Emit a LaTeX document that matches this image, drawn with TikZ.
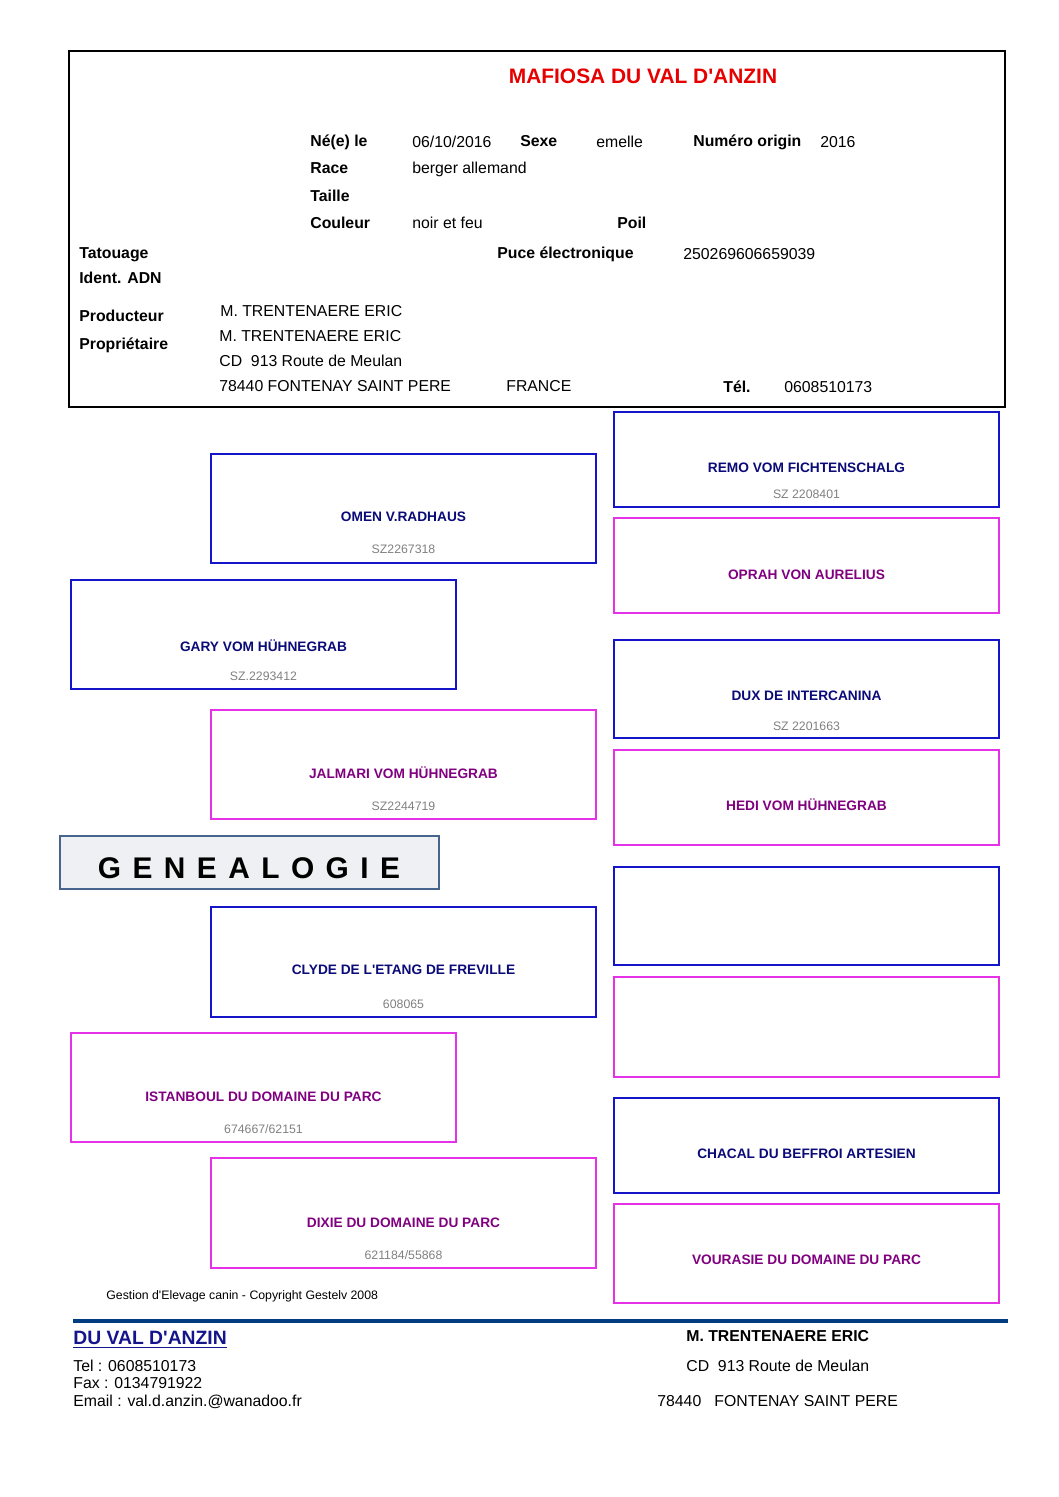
\documentclass[tikz,border=0pt]{standalone}
\usepackage{fontspec}
\setmainfont{Liberation Sans}[Ligatures=TeXOff]
\usepackage{tikz}
\usetikzlibrary{positioning}

\definecolor{boxblue}{RGB}{20,20,200}
\definecolor{boxpink}{RGB}{230,50,230}
\definecolor{nameblue}{RGB}{10,10,120}
\definecolor{namepurple}{RGB}{128,0,128}
\definecolor{numgrey}{RGB}{128,128,128}
\definecolor{titlered}{RGB}{230,0,0}
\definecolor{footblue}{RGB}{0,60,130}
\definecolor{kennelblue}{RGB}{20,20,140}
\definecolor{genfill}{RGB}{238,240,243}
\definecolor{genline}{RGB}{70,100,140}

\begin{document}
\begin{tikzpicture}[x=0.02cm, y=-0.02cm,
    lbl/.style={anchor=west, inner sep=0pt, text height=6.5pt, text depth=0pt,
      font=\fontsize{9}{11}\selectfont\bfseries},
    val/.style={anchor=west, inner sep=0pt, text height=6.5pt, text depth=0pt,
      font=\fontsize{9}{11}\selectfont},
    malebox/.style={draw=boxblue, line width=0.7pt},
    femalebox/.style={draw=boxpink, line width=0.7pt},
    malename/.style={inner sep=0pt, text height=5.6pt, text depth=0pt, text=nameblue,
      font=\fontsize{7.8}{9}\selectfont\bfseries},
    femalename/.style={malename, text=namepurple},
    regnum/.style={inner sep=0pt, text height=5pt, text depth=0pt, text=numgrey,
      font=\fontsize{7}{8}\selectfont}]
  \useasboundingbox (0,0) rectangle (1058,1497);

  % Header frame
  \draw[line width=1.6pt] (69,51) rectangle (1005,407);
  \node[inner sep=0pt, text height=8.5pt, text depth=0pt, text=titlered,
    font=\fontsize{11.9}{13}\selectfont\bfseries] (dog) at (643,76) {MAFIOSA DU VAL D'ANZIN};

  % Identity
  \node[lbl] (bornLbl) at (310,141) {Né(e) le};
  \node[val] (born) at (412,142) {06/10/2016};
  \node[lbl] (sexLbl) at (520,141) {Sexe};
  \node[val] (sex) at (596,142) {emelle};
  \node[lbl] (origLbl) at (693,141) {Numéro origin};
  \node[val] (orig) at (820,142) {2016};
  \node[lbl] (raceLbl) at (310,168) {Race};
  \node[val] (race) at (412,168) {berger allemand};
  \node[lbl] (sizeLbl) at (310,196) {Taille};
  \node[lbl] (colourLbl) at (310,223) {Couleur};
  \node[val] (colour) at (412,223) {noir et feu};
  \node[lbl] (coatLbl) at (617,223) {Poil};
  \node[lbl] (tattooLbl) at (79,253) {Tatouage};
  \node[lbl] (chipLbl) at (497,253) {Puce électronique};
  \node[val] (chip) at (683,254) {250269606659039};
  \node[lbl] (dnaLbl) at (79,278) {Ident. ADN};

  % Breeder and owner
  \node[lbl] (breederLbl) at (79,316) {Producteur};
  \node[val] (breeder) at (220,311) {M. TRENTENAERE ERIC};
  \node[lbl] (ownerLbl) at (79,344) {Propriétaire};
  \node[val] (owner) at (219,336) {M. TRENTENAERE ERIC};
  \node[val] (street) at (219,361) {CD\ \ 913 Route de Meulan};
  \node[val] (town) at (219,386) {78440 FONTENAY SAINT PERE};
  \node[val] (country) at (506,386) {FRANCE};
  \node[lbl] (phoneLbl) at (723,387) {Tél.};
  \node[val] (phone) at (784,387) {0608510173};

  % Parents
  \draw[malebox] (211,454) rectangle (596,563);
  \node[malename] (omen) at (403.5,517) {OMEN V.RADHAUS};
  \node[regnum] (omenNum) at (403.5,549) {SZ2267318};
  \draw[femalebox] (211,1158) rectangle (596,1268);
  \node[femalename] (dixie) at (403.5,1223) {DIXIE DU DOMAINE DU PARC};
  \node[regnum] (dixieNum) at (403.5,1255) {621184/55868};

  % Grandparents
  \draw[malebox] (71,580) rectangle (456,689);
  \node[malename] (gary) at (263.5,647) {GARY VOM HÜHNEGRAB};
  \node[regnum] (garyNum) at (263.5,676) {SZ.2293412};
  \draw[femalebox] (211,710) rectangle (596,819);
  \node[femalename] (jalmari) at (403.5,774) {JALMARI VOM HÜHNEGRAB};
  \node[regnum] (jalmariNum) at (403.5,806) {SZ2244719};
  \draw[malebox] (211,907) rectangle (596,1017);
  \node[malename] (clyde) at (403.5,970) {CLYDE DE L'ETANG DE FREVILLE};
  \node[regnum] (clydeNum) at (403.5,1004) {608065};
  \draw[femalebox] (71,1033) rectangle (456,1142);
  \node[femalename] (istanboul) at (263.5,1097) {ISTANBOUL DU DOMAINE DU PARC};
  \node[regnum] (istanboulNum) at (263.5,1129) {674667/62151};

  % Great-grandparents
  \foreach \t/\b/\s in {412/507/malebox, 518/613/femalebox, 640/738/malebox,
      750/845/femalebox, 867/965/malebox, 977/1077/femalebox,
      1098/1193/malebox, 1204/1303/femalebox} {
    \draw[\s] (614,\t) rectangle (999,\b);
  }
  \node[malename] (remo) at (806.5,468) {REMO VOM FICHTENSCHALG};
  \node[regnum] (remoNum) at (806.5,494) {SZ 2208401};
  \node[femalename] (oprah) at (806.5,575) {OPRAH VON AURELIUS};
  \node[malename] (dux) at (806.5,696) {DUX DE INTERCANINA};
  \node[regnum] (duxNum) at (806.5,726) {SZ 2201663};
  \node[femalename] (hedi) at (806.5,806) {HEDI VOM HÜHNEGRAB};
  \node[malename] (chacal) at (806.5,1154) {CHACAL DU BEFFROI ARTESIEN};
  \node[femalename] (vourasie) at (806.5,1260) {VOURASIE DU DOMAINE DU PARC};

  % Title plate
  \draw[draw=genline, fill=genfill, line width=0.6pt] (60,836) rectangle (439,889);
  \node[inner sep=0pt, text height=12.2pt, text depth=0pt,
    font=\fontsize{17}{20}\selectfont\bfseries\addfontfeature{LetterSpace=10.5}]
    (genealogy) at (249,868) {G E N E A L O G I E};

  % Footer
  \node[anchor=west, inner sep=0pt, font=\fontsize{7}{8}\selectfont]
    (software) at (106,1296) {Gestion d'Elevage canin - Copyright Gestelv 2008};
  \coordinate (ruleL) at (73,1321);
  \coordinate (ruleR) at (1008,1321);
  \draw[footblue, line width=2.2pt] (ruleL) -- (ruleR);
  \node[anchor=west, inner sep=0pt, text height=7.9pt, text depth=0pt, text=kennelblue,
    font=\fontsize{11}{13}\selectfont\bfseries] (kennel) at (73,1338) {\underline{DU VAL D'ANZIN}};
  \node[val] (tel) at (73,1366) {Tel : 0608510173};
  \node[val] (fax) at (73,1383) {Fax : 0134791922};
  \node[val] (mail) at (73,1401) {Email : val.d.anzin.@wanadoo.fr};
  \node[lbl] (footName) at (686,1336) {M. TRENTENAERE ERIC};
  \node[val] (footStreet) at (686,1366) {CD\ \ 913 Route de Meulan};
  \node[val] (footTown) at (657,1401) {78440\ \ \ FONTENAY SAINT PERE};
\end{tikzpicture}
\end{document}
